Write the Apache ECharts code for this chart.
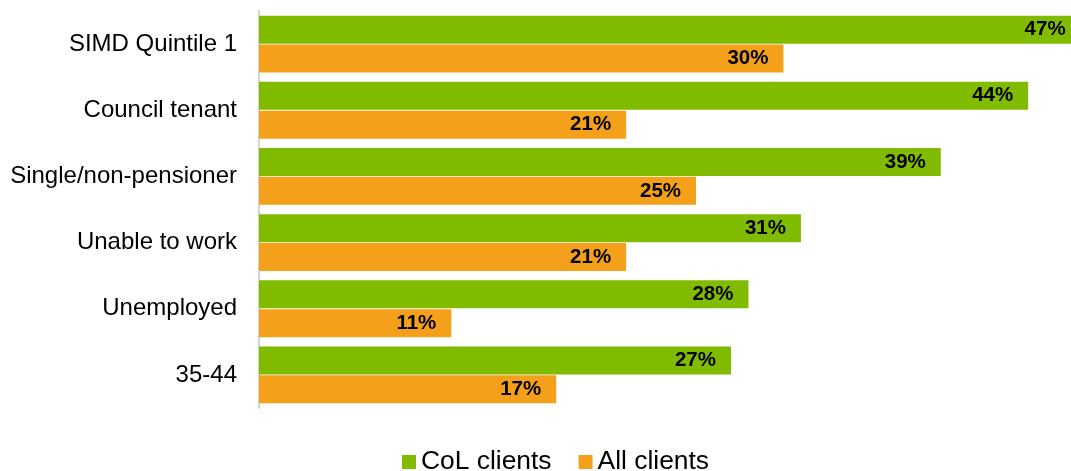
<!DOCTYPE html>
<html><head><meta charset="utf-8">
<script src="https://cdn.jsdelivr.net/npm/echarts@6/dist/echarts.min.js"></script>
<style>html,body{margin:0;padding:0;background:#fff}#c{width:1071px;height:471px}</style>
</head><body><div id="c"></div>
<script>
var categories = ['SIMD Quintile 1','Council tenant','Single/non-pensioner','Unable to work','Unemployed','35-44'];
var colClients = [47,44,39,31,28,27];
var allClients = [30,21,25,21,11,17];
var seriesNames = ['CoL clients','All clients'];

var chart = echarts.init(document.getElementById('c'));
var lbl = {show:true, position:'insideRight', distance:15, color:'#000', fontWeight:'bold', fontSize:20.5, fontFamily:'Liberation Sans, Arial', formatter:'{c}%'};
chart.setOption({
  animation:false,
  legend:{bottom:-9, left:397, itemWidth:14, itemHeight:14, itemGap:27, icon:'rect',
    textStyle:{fontSize:26.4, color:'#000', fontFamily:'Liberation Sans, Arial'}},
  grid:{left:259, top:11, right:0, bottom:63, containLabel:false},
  xAxis:{type:'value', min:0, max:46.45, show:false},
  yAxis:{type:'category', data:categories, inverse:true,
    axisLine:{lineStyle:{color:'#d4d4d4', width:2}}, axisTick:{show:false},
    axisLabel:{fontSize:24, color:'#000', fontFamily:'Liberation Sans, Arial', margin:22, padding:[0,0,10,0]}},
  series:[
    {name:seriesNames[0], type:'bar', data:colClients, itemStyle:{color:'#80bb00'}, barCategoryGap:'14%', barGap:'3%', label:lbl, clip:false},
    {name:seriesNames[1], type:'bar', data:allClients, itemStyle:{color:'#f5a01a'}, label:lbl, clip:false}
  ]
});
</script></body></html>
